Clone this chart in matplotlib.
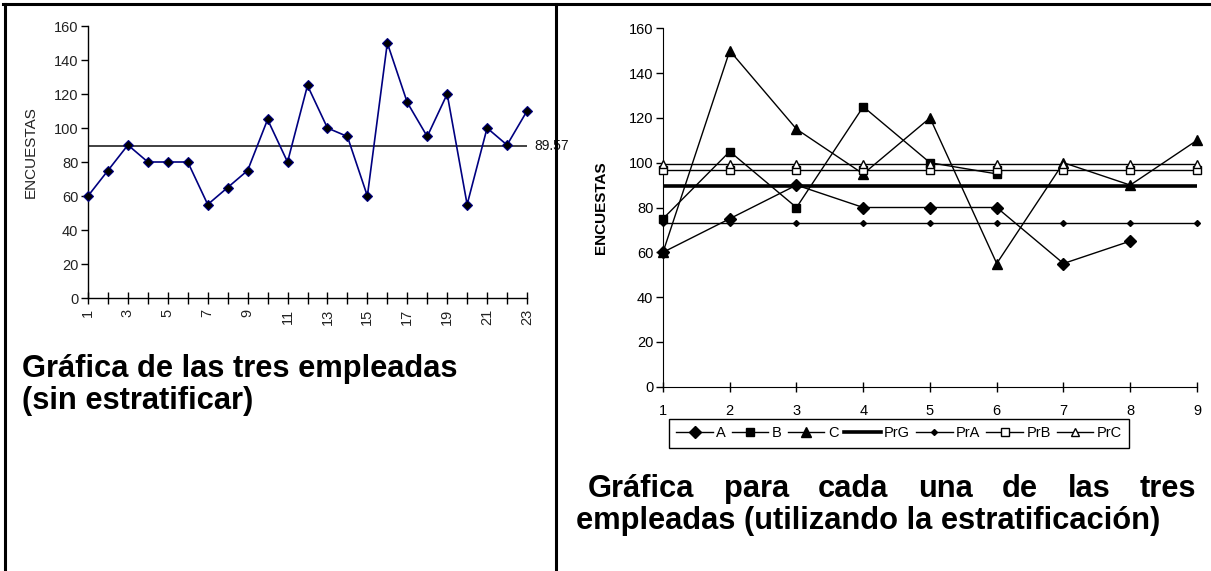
import matplotlib
matplotlib.use("Agg")
import matplotlib.pyplot as plt
from matplotlib.lines import Line2D
import numpy as np

# --- data -----------------------------------------------------------------
dias = list(range(1, 24))
encuestas = [60, 75, 90, 80, 80, 80, 55, 65, 75, 105, 80, 125,
             100, 95, 60, 150, 115, 95, 120, 55, 100, 90, 110]

dias_estrato = list(range(1, 10))
serie_a = [60, 75, 90, 80, 80, 80, 55, 65]
serie_b = [75, 105, 80, 125, 100, 95]
serie_c = [60, 150, 115, 95, 120, 55, 100, 90, 110]

y_ticks = list(range(0, 161, 20))
titulo_izq = ["Gráfica de las tres empleadas", "(sin estratificar)"]
titulo_der_1 = ["Gráfica", "para", "cada", "una", "de", "las", "tres"]
titulo_der_2 = "empleadas (utilizando la estratificación)"

prom_general = float(np.mean(encuestas))
prom_a = float(np.mean(serie_a))
prom_b = float(np.mean(serie_b))
prom_c = float(np.mean(serie_c))

# --- figure ---------------------------------------------------------------
W, H, DPI = 1211, 571, 100
plt.rcParams["font.family"] = ["Liberation Sans", "DejaVu Sans"]
fig = plt.figure(figsize=(W / DPI, H / DPI), dpi=DPI, facecolor="white")


def fx(px):
    return px / W


def fy(py):
    return 1 - py / H


# table-like frame around the two panels
for xs, ys in [((fx(3), fx(W)), (fy(3.5), fy(3.5))),
               ((fx(5), fx(5)), (fy(3.5), fy(H))),
               ((fx(556), fx(556)), (fy(3.5), fy(H)))]:
    fig.add_artist(Line2D(xs, ys, color="black", lw=2.2,
                          transform=fig.transFigure, solid_capstyle="projecting"))

TICK_FS = 10.5
CAPTION_FS = 22.2

# --- left panel: all 23 days ------------------------------------------------
ax1 = fig.add_axes([fx(88), fy(298), fx(527 - 88), (298 - 26) / H])
ax1.plot(dias, encuestas, color="#000080", lw=1.2, marker="D", ms=5.5,
         mfc="black", mec="#000080", mew=0.8, clip_on=False, zorder=3)
ax1.plot([dias[0], dias[-1]], [prom_general, prom_general],
         color="#333333", lw=1.3, zorder=2)
ax1.text(dias[-1] + 0.35, prom_general, f"{prom_general:.2f}",
         ha="left", va="center", fontsize=10, color="#111111")
ax1.set_xlim(dias[0], dias[-1])
ax1.set_ylim(0, 160)
ax1.set_yticks(y_ticks)
ax1.set_xticks(dias)
ax1.set_xticklabels([str(d) if d % 2 == 1 else "" for d in dias], rotation=90)
for s in ("top", "right"):
    ax1.spines[s].set_visible(False)
for s in ("left", "bottom"):
    ax1.spines[s].set_linewidth(1.0)
ax1.tick_params(axis="y", direction="out", length=5, width=1, labelsize=TICK_FS,
                pad=2, labelcolor="#222222")
ax1.tick_params(axis="x", direction="inout", length=8, width=1, labelsize=TICK_FS,
                pad=4, labelcolor="#222222")
ax1.set_ylabel("ENCUESTAS", fontsize=11, color="#222222")
ax1.yaxis.set_label_coords((38 - 88) / (527 - 88), 0.537)

for linea, base in zip(titulo_izq, (377, 409)):
    fig.text(fx(22), fy(base), linea, ha="left", va="baseline",
             fontsize=CAPTION_FS, fontweight="bold")

# --- right panel: stratified by employee ------------------------------------
ax2 = fig.add_axes([fx(663), fy(386.7), fx(534), 358.4 / H])
k = dict(color="black", lw=1.0, clip_on=False)
ax2.plot(dias_estrato[:len(serie_a)], serie_a, marker="D", ms=6, label="A", zorder=3, **k)
ax2.plot(dias_estrato[:len(serie_b)], serie_b, marker="s", ms=6, label="B", zorder=3, **k)
ax2.plot(dias_estrato[:len(serie_c)], serie_c, marker="^", ms=7, label="C", zorder=3, **k)
ax2.plot(dias_estrato, [prom_general] * len(dias_estrato), color="black", lw=2.6,
         label="PrG", zorder=2)
ax2.plot(dias_estrato, [prom_a] * len(dias_estrato), marker="D", ms=3,
         label="PrA", zorder=2, **k)
ax2.plot(dias_estrato, [prom_b] * len(dias_estrato), marker="s", ms=5.5, mfc="white",
         label="PrB", zorder=4, **k)
ax2.plot(dias_estrato, [prom_c] * len(dias_estrato), marker="^", ms=6, mfc="white",
         label="PrC", zorder=4, **k)
ax2.set_xlim(dias_estrato[0], dias_estrato[-1])
ax2.set_ylim(0, 160)
ax2.set_yticks(y_ticks)
ax2.set_xticks(dias_estrato)
for s in ("top", "right"):
    ax2.spines[s].set_visible(False)
ax2.tick_params(axis="y", direction="out", length=5, width=1, labelsize=TICK_FS, pad=2)
ax2.tick_params(axis="x", direction="inout", length=7, width=1, labelsize=TICK_FS, pad=9)
ax2.set_ylabel("ENCUESTAS", fontsize=11, fontweight="bold")
ax2.yaxis.set_label_coords((608 - 663) / 534, 0.5)

leg = ax2.legend(loc="upper left", bbox_to_anchor=(fx(669), fy(419)),
                 bbox_transform=fig.transFigure, ncol=7, frameon=True,
                 fancybox=False, edgecolor="black", framealpha=1,
                 prop={"size": 10.5}, handlelength=2.5,
                 handletextpad=0.25, columnspacing=0.4, borderpad=0.5,
                 borderaxespad=0)
leg.get_frame().set_linewidth(1.0)

# justified first line of the right caption
fig.canvas.draw()
renderer = fig.canvas.get_renderer()
x0, x1 = 588, 1196
words = []
for w in titulo_der_1:
    t = fig.text(0, fy(497), w, ha="left", va="baseline", fontsize=CAPTION_FS,
                 fontweight="bold")
    words.append(t)
widths = [t.get_window_extent(renderer).width for t in words]
gap = (x1 - x0 - sum(widths)) / (len(words) - 1)
x = x0
for t, wd in zip(words, widths):
    t.set_x(fx(x))
    x += wd + gap
fig.text(fx(576), fy(529), titulo_der_2, ha="left", va="baseline", fontsize=CAPTION_FS,
         fontweight="bold")

fig.savefig("out.png", dpi=DPI, facecolor="white")
